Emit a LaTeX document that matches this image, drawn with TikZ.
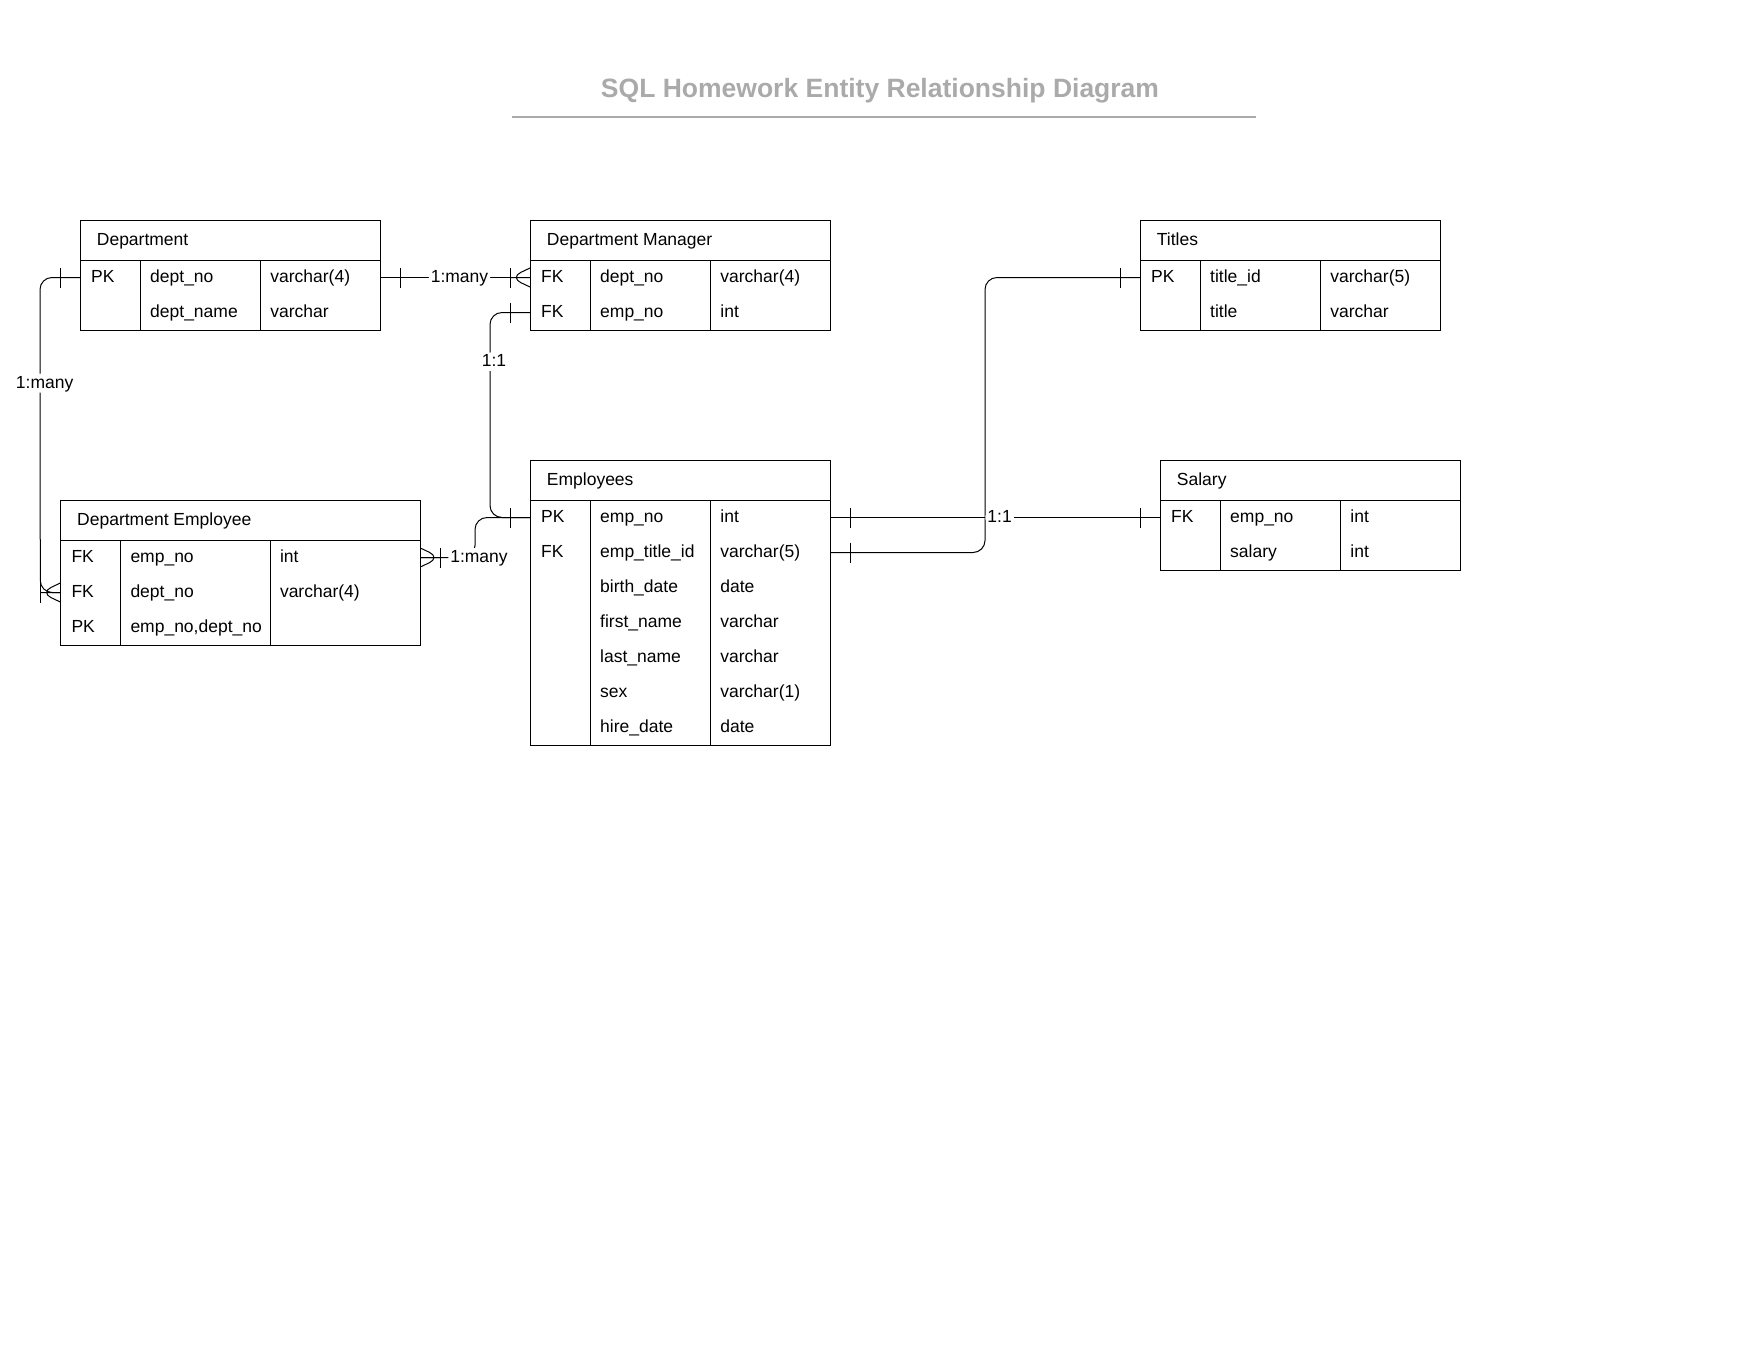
\documentclass[tikz,border=0pt]{standalone}
\usepackage{fontspec}
\setmainfont{Liberation Sans}
\usepackage{tikz}
\newcommand{\rowH}{35}
\newcommand{\headH}{40}
\newcommand{\keyW}{60}
\newcommand{\barD}{20}
\newcommand{\barL}{10}
\newcommand{\footW}{9.5}
\definecolor{titlegray}{RGB}{170,170,170}

% one table: name, top left corner, width, type column offset, title, number of rows, rows
\newcommand{\entity}[7]{%
  \node[tblhead, minimum width=#3] (#1) at (#2) {};
  \node[celltxt] at ([xshift=16.7pt]#1.west) {#5};
  \node[tblhead, minimum width=#3, minimum height={#6*\rowH}] (#1-body) at (#1.south west) {};
  \draw[tblline] ([xshift={\keyW*1pt}]#1-body.north west) -- ([xshift={\keyW*1pt}]#1-body.south west);
  \draw[tblline] ([xshift={#4*1pt}]#1-body.north west) -- ([xshift={#4*1pt}]#1-body.south west);
  \foreach \k/\f/\t [count=\i] in {#7} {
    \path (#1.south west) ++(0,{(\i-1)*\rowH}) node[rowbox, minimum width=#3] (#1-r\i) {};
    \node[celltxt] at ([xshift=11pt]#1-r\i.west) {\k};
    \node[celltxt] at ([xshift=70pt]#1-r\i.west) {\f};
    \node[celltxt] at ([xshift={(#4+9.5)*1pt}]#1-r\i.west) {\t};
  }
}
% ends of a connector
\newcommand{\oneBar}[2]{\draw[conn] ([xshift=#2]#1) ++(0,-\barL) -- ++(0,{2*\barL});}
\newcommand{\crowFoot}[2]{\draw[conn] ([yshift={\footW*1pt}]#1) -- ([xshift=#2]#1) -- ([yshift={-\footW*1pt}]#1) ([xshift=#2]#1) -- (#1);}

\begin{document}
\begin{tikzpicture}[x=1pt, y=-1pt,
    tblhead/.style={draw, line width=1pt, anchor=north west, minimum height=\headH, inner sep=0pt, outer sep=0pt},
    tblline/.style={line width=1pt},
    rowbox/.style={anchor=north west, minimum height=\rowH, inner sep=0pt, outer sep=0pt},
    celltxt/.style={anchor=west, inner sep=0pt, text height=13.5pt, text depth=3.5pt, font=\fontsize{17.5}{21}\selectfont},
    conn/.style={draw, line width=1pt, rounded corners=12pt},
    lbl/.style={fill=white, inner xsep=2pt, inner ysep=1pt, text height=13.5pt, text depth=3.5pt, font=\fontsize{17.5}{21}\selectfont}]

    \useasboundingbox (0,0) rectangle (1758,1358);

    % Title and its rule
    \node[anchor=base, text=titlegray, font=\bfseries\fontsize{26.5}{32}\selectfont] (title) at (880,97.5) {SQL Homework Entity Relationship Diagram};
    \draw[titlegray, line width=2pt] (512,116.6) -- (1256,116.6);

    % Draw the tables
    \entity{dept}{80,220}{300}{180.7}{Department}{2}{PK/dept\_no/varchar(4), /dept\_name/varchar}
    \entity{mgr}{530,220}{300}{180.7}{Department Manager}{2}{FK/dept\_no/varchar(4), FK/emp\_no/int}
    \entity{tit}{1140,220}{300}{180.7}{Titles}{2}{PK/title\_id/varchar(5), /title/varchar}
    \entity{de}{60.3,500}{360}{210}{Department Employee}{3}{FK/emp\_no/int, FK/dept\_no/varchar(4), PK/{emp\_no,dept\_no}/{}}
    \entity{emp}{530,460}{300}{180.7}{Employees}{7}{PK/emp\_no/int, FK/emp\_title\_id/varchar(5), /birth\_date/date, /first\_name/varchar, /last\_name/varchar, /sex/varchar(1), /hire\_date/date}
    \entity{sal}{1160,460}{300}{180.7}{Salary}{2}{FK/emp\_no/int, /salary/int}

    % Department to Department Manager
    \draw[conn] (dept-r1.east) -- node[lbl, pos=0.53] {1:many} (mgr-r1.west);
    \oneBar{dept-r1.east}{20pt}
    \oneBar{mgr-r1.west}{-20pt}
    \crowFoot{mgr-r1.west}{-20pt}

    % Department Manager to Employees
    \draw[conn] (mgr-r2.west) -- ++(-40,0) |- node[lbl, pos=0.12, xshift=4pt] {1:1} (emp-r1.west);
    \oneBar{mgr-r2.west}{-20pt}
    \oneBar{emp-r1.west}{-20pt}

    % Department to Department Employee
    \draw[conn] (dept-r1.west) -- ++(-40,0) -- node[lbl, pos=0.335, xshift=4.5pt] {1:many} ([xshift=-20pt]de-r2.west) [sharp corners] -- (de-r2.west);
    \oneBar{dept-r1.west}{-20pt}
    \oneBar{de-r2.west}{-20pt}
    \crowFoot{de-r2.west}{-20pt}

    % Department Employee to Employees
    \draw[conn] (de-r1.east) -- ++(54.7,0) node[lbl, xshift=4pt] {1:many} |- (emp-r1.west);
    \oneBar{de-r1.east}{20pt}
    \crowFoot{de-r1.east}{20pt}

    % Employees to Titles
    \draw[conn] (emp-r2.east) -- ++(155,0) |- (tit-r1.west);
    \oneBar{emp-r2.east}{20pt}
    \oneBar{tit-r1.west}{-20pt}

    % Employees to Salary
    \draw[conn] (emp-r1.east) -- node[lbl, pos=0.514] {1:1} (sal-r1.west);
    \oneBar{emp-r1.east}{20pt}
    \oneBar{sal-r1.west}{-20pt}
\end{tikzpicture}
\end{document}
